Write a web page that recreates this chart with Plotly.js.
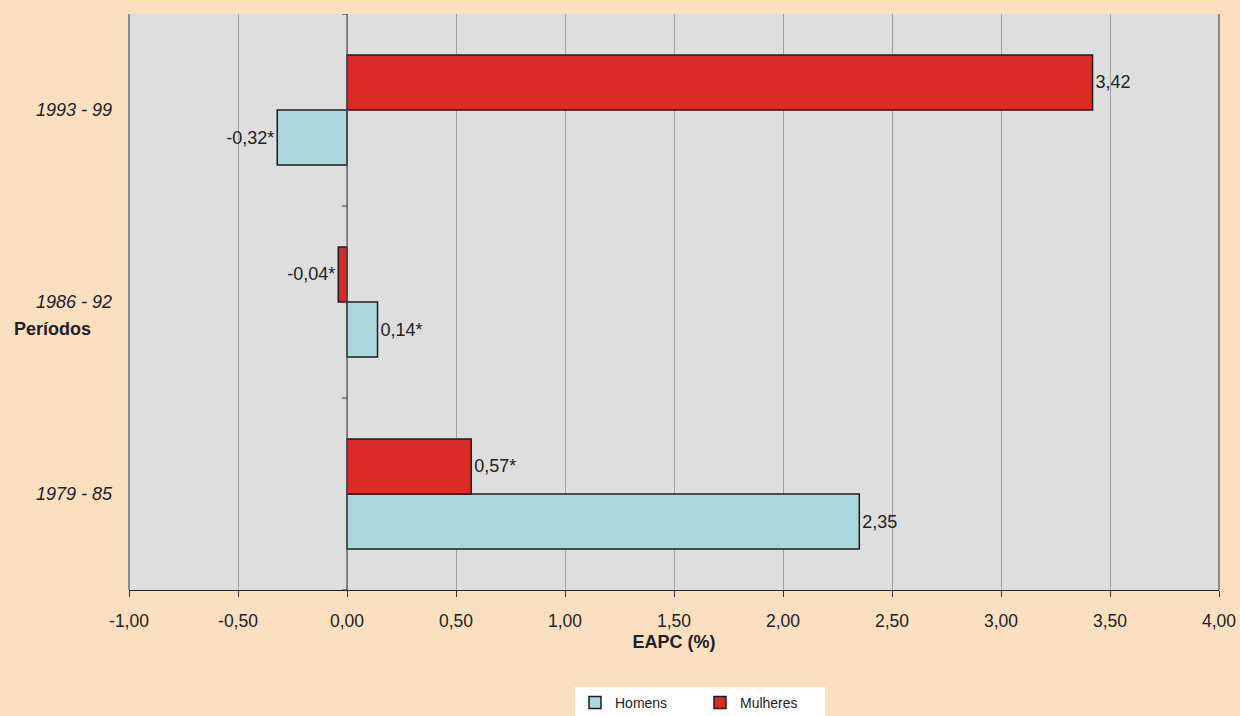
<!DOCTYPE html>
<html>
<head>
<meta charset="utf-8">
<script src="https://cdn.plot.ly/plotly-3.0.1.min.js"></script>
<style>html,body{margin:0;padding:0;background:#fae0c0;}</style>
</head>
<body>
<div id="chart" style="width:1240px;height:716px;"></div>
<script>
const periods = ["1979 - 85", "1986 - 92", "1993 - 99"];
const homens = [2.35, 0.14, -0.32];
const mulheres = [0.57, -0.04, 3.42];
const homensLabels = ["2,35", "0,14*", "-0,32*"];
const mulheresLabels = ["0,57*", "-0,04*", "3,42"];
const xTicks = [-1, -0.5, 0, 0.5, 1, 1.5, 2, 2.5, 3, 3.5, 4];
const xTickText = xTicks.map(function (v) { return v.toFixed(2).replace(".", ","); });

const FONT = "Liberation Sans, Arial, sans-serif";
const barLine = {color: "#1e1e1e", width: 1.5};

const traces = [
  {type: "bar", orientation: "h", name: "Homens", y: periods, x: homens,
   text: homensLabels, textposition: "outside", cliponaxis: false,
   textfont: {family: FONT, size: 18, color: "#222"},
   marker: {color: "#acd7db", line: barLine}, hoverinfo: "none"},
  {type: "bar", orientation: "h", name: "Mulheres", y: periods, x: mulheres,
   text: mulheresLabels, textposition: "outside", cliponaxis: false,
   textfont: {family: FONT, size: 18, color: "#222"},
   marker: {color: "#dc2a27", line: barLine}, hoverinfo: "none"}
];

const shapes = [
  {type: "line", xref: "paper", yref: "paper", x0: 0, x1: 0, y0: 0, y1: 1, line: {color: "#8a8a8a", width: 2}},
  {type: "line", xref: "paper", yref: "paper", x0: 1, x1: 1, y0: 0, y1: 1, line: {color: "#8a8a8a", width: 2}},
  {type: "line", xref: "x", yref: "paper", x0: 0, x1: 0, y0: 0, y1: 1, line: {color: "#555", width: 1.2}}
];
[-0.5, 0.5, 1.5, 2.5].forEach(function (b) {
  shapes.push({type: "line", xref: "x", yref: "y", xsizemode: "pixel", xanchor: 0,
    x0: -5, x1: 0, y0: b, y1: b, line: {color: "#333", width: 1}});
});

const layout = {
  width: 1240, height: 716,
  paper_bgcolor: "#fae0c0", plot_bgcolor: "#dedede",
  margin: {l: 129, r: 21, t: 14, b: 126},
  font: {family: FONT, size: 18, color: "#222"},
  barmode: "group", bargap: 0.427, bargroupgap: 0,
  showlegend: true,
  legend: {orientation: "h", xref: "container", yref: "container",
    x: 0.4637, xanchor: "left", y: 0.0405, yanchor: "top",
    bgcolor: "#ffffff", font: {family: FONT, size: 14, color: "#222"},
    entrywidth: 80, traceorder: "normal"},
  xaxis: {range: [-1, 4], tickvals: xTicks, ticktext: xTickText,
    showgrid: true, gridcolor: "#a3a3a3", gridwidth: 1, zeroline: false,
    showline: true, linecolor: "#222", linewidth: 1.2,
    ticks: "outside", ticklen: 6, tickcolor: "#333", ticklabelstandoff: 9,
    tickfont: {family: FONT, size: 17.5, color: "#222"},
    title: {text: "<b>EAPC (%)</b>", font: {family: FONT, size: 18, color: "#222"}, standoff: 5},
    fixedrange: true},
  yaxis: {type: "category", range: [-0.5, 2.5], showgrid: false, zeroline: false,
    showline: false, ticks: "", ticklabelstandoff: 16,
    tickfont: {family: FONT, size: 18, color: "#222", style: "italic"},
    fixedrange: true},
  shapes: shapes,
  annotations: [
    {text: "<b>Períodos</b>", xref: "paper", yref: "paper", x: -0.1073, xanchor: "left",
     y: 0.453, yanchor: "middle", showarrow: false,
     font: {family: FONT, size: 18, color: "#222"}}
  ]
};

Plotly.newPlot("chart", traces, layout, {displayModeBar: false, staticPlot: true});
</script>
</body>
</html>
